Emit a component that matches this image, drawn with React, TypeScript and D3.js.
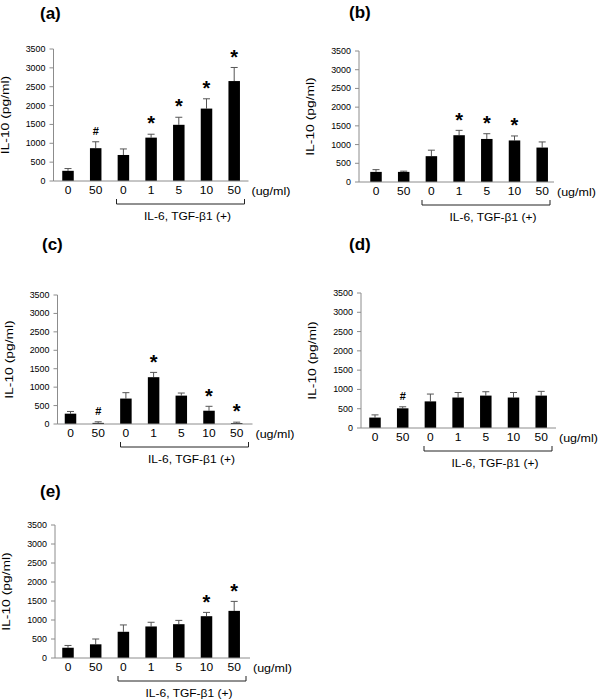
import React from "react";
import * as d3 from "d3";

// ---- data ----
const categories = ["0", "50", "0", "1", "5", "10", "50"];
const yTicks = [0, 500, 1000, 1500, 2000, 2500, 3000, 3500];
const unitLabel = "(ug/ml)";
const groupLabel = "IL-6, TGF-β1 (+)";
const yTitle = "IL-10 (pg/ml)";

const valuesA = [270, 870, 690, 1150, 1490, 1920, 2650];
const errorsA = [60, 170, 160, 90, 200, 260, 360];
const marksA = ["", "#", "", "*", "*", "*", "*"];

const valuesB = [270, 270, 690, 1250, 1150, 1110, 920];
const errorsB = [60, 20, 160, 130, 140, 120, 150];
const marksB = ["", "", "", "*", "*", "*", ""];

const valuesC = [280, 30, 690, 1270, 770, 360, 25];
const errorsC = [60, 30, 160, 130, 70, 120, 25];
const marksC = ["", "#", "", "*", "", "*", "*"];

const valuesD = [270, 510, 690, 790, 840, 790, 840];
const errorsD = [70, 40, 190, 130, 100, 130, 110];
const marksD = ["", "#", "", "", "", "", ""];

const valuesE = [270, 360, 690, 830, 890, 1100, 1240];
const errorsE = [60, 140, 180, 110, 100, 100, 250];
const marksE = ["", "", "", "", "", "*", "*"];

// ---- layout ----
const panels = [
  { letter: "(a)", values: valuesA, errors: errorsA, marks: marksA, x0: 53.5, y0: 181, h: 132, first: 14.5, lx: 40, ly: 19 },
  { letter: "(b)", values: valuesB, errors: errorsB, marks: marksB, x0: 359, y0: 182, h: 131, first: 17, lx: 349, ly: 18 },
  { letter: "(c)", values: valuesC, errors: errorsC, marks: marksC, x0: 57.5, y0: 424, h: 129, first: 13, lx: 42, ly: 250 },
  { letter: "(d)", values: valuesD, errors: errorsD, marks: marksD, x0: 361, y0: 428, h: 135, first: 14, lx: 349, ly: 250 },
  { letter: "(e)", values: valuesE, errors: errorsE, marks: marksE, x0: 55, y0: 658, h: 133, first: 13, lx: 40, ly: 497 },
];

const STEP = 27.7;
const BAR_W = 11.5;
const FONT = "'Liberation Sans', Arial, sans-serif";

function Panel({ p }: { p: (typeof panels)[number] }) {
  const { x0, y0, h } = p;
  const y = d3.scaleLinear().domain([0, 3500]).range([y0, y0 - h]);
  const idx = d3.range(categories.length);
  const x = d3
    .scalePoint<number>()
    .domain(idx)
    .range([x0 + p.first, x0 + p.first + (categories.length - 1) * STEP]);
  const axisEnd = x0 + 195;
  return (
    <g fontFamily={FONT}>
      <text x={p.lx} y={p.ly} fontSize={17} fontWeight="bold" fill="#000">
        {p.letter}
      </text>
      {/* y axis */}
      <line x1={x0} x2={x0} y1={y(3500)} y2={y0} stroke="#8c8c8c" strokeWidth={1} />
      {yTicks.map((t) => (
        <g key={t}>
          <line x1={x0 - 4} x2={x0} y1={y(t)} y2={y(t)} stroke="#8c8c8c" strokeWidth={1} />
          <text
            transform={`translate(${x0 - 8},${y(t) + 3}) scale(1.05,1)`}
            textAnchor="end"
            fontSize={8.5}
            fill="#000"
          >
            {t}
          </text>
        </g>
      ))}
      <text
        transform={`translate(${x0 - 45},${(y(0) + y(3500)) / 2}) rotate(-90) scale(1.32,1)`}
        textAnchor="middle"
        fontSize={10.5}
        fill="#000"
      >
        {yTitle}
      </text>
      {/* bars */}
      {idx.map((i) => {
        const v = p.values[i];
        const e = p.errors[i];
        const cx = x(i)!;
        const top = y(v);
        const cap = y(v + e);
        return (
          <g key={i}>
            <line x1={cx} x2={cx} y1={top} y2={cap} stroke="#555" strokeWidth={1} />
            <line x1={cx - 3.5} x2={cx + 3.5} y1={cap} y2={cap} stroke="#555" strokeWidth={1} />
            <rect x={cx - BAR_W / 2} y={top} width={BAR_W} height={y0 - top} fill="#000" />
            {p.marks[i] === "*" && (
              <text x={cx} y={cap - 3.8} textAnchor="middle" fontSize={20} fontWeight="bold" fill="#000">
                *
              </text>
            )}
            {p.marks[i] === "#" && (
              <text x={cx} y={cap - 6.5} textAnchor="middle" fontSize={11} fontWeight="bold" fill="#000">
                #
              </text>
            )}
            <text
              transform={`translate(${cx},${y0 + 13}) scale(1.2,1)`}
              textAnchor="middle"
              fontSize={10}
              fill="#000"
            >
              {categories[i]}
            </text>
          </g>
        );
      })}
      {/* x axis */}
      <line x1={x0} x2={axisEnd} y1={y0} y2={y0} stroke="#8c8c8c" strokeWidth={1} />
      <text transform={`translate(${x0 + 198},${y0 + 14}) scale(1.25,1)`} fontSize={10} fill="#000">
        {unitLabel}
      </text>
      {/* bracket */}
      <path
        d={`M${x0 + 63},${y0 + 18}V${y0 + 23}H${x0 + 191}V${y0 + 18}`}
        fill="none"
        stroke="#222"
        strokeWidth={1}
      />
      <text
        transform={`translate(${x0 + 134},${y0 + 39}) scale(1.2,1)`}
        textAnchor="middle"
        fontSize={10}
        fill="#000"
      >
        {groupLabel}
      </text>
    </g>
  );
}

export default function App() {
  return (
    <svg
      width={600}
      height={700}
      viewBox="0 0 600 700"
      style={{ position: "absolute", left: 0, top: 0, background: "#fff" }}
    >
      <rect width={600} height={700} fill="#fff" />
      {panels.map((p) => (
        <Panel key={p.letter} p={p} />
      ))}
    </svg>
  );
}
